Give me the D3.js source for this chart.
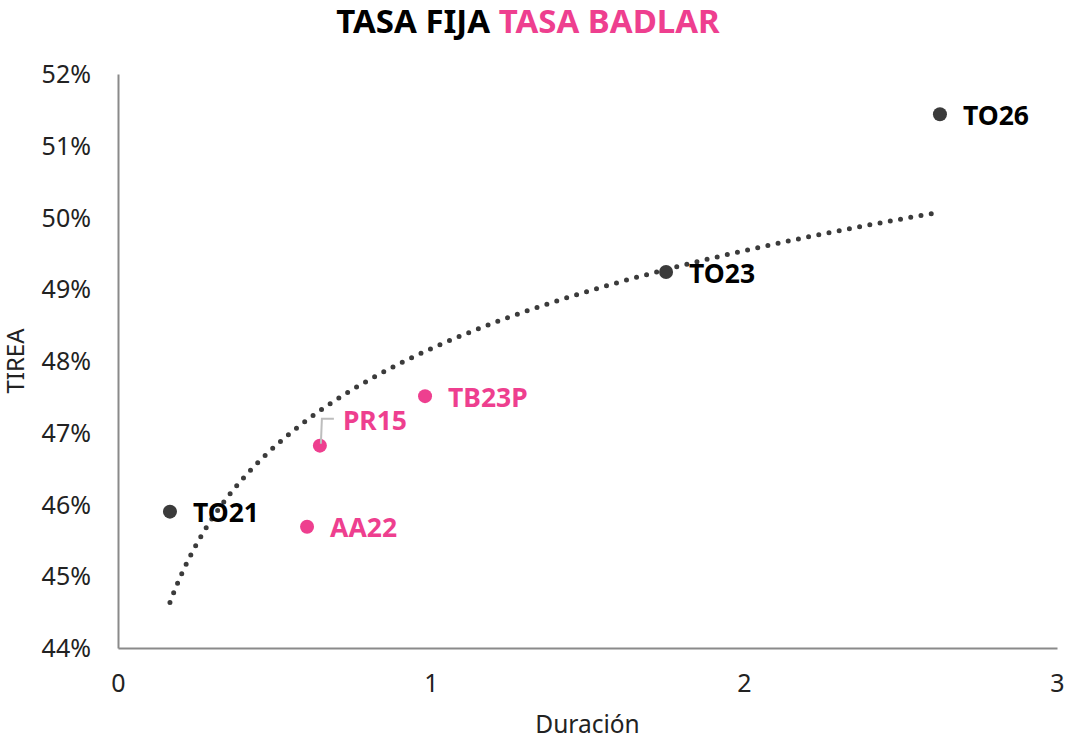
<!DOCTYPE html>
<html><head><meta charset="utf-8">
<script src="https://cdn.jsdelivr.net/npm/d3@7"></script>
<style>
body{margin:0;background:#fff;}
svg{display:block;font-family:"Noto Sans",sans-serif;}
</style></head>
<body><svg id="c" width="1070" height="740"></svg>
<script>
const names   = ["TO21","AA22","PR15","TB23P","TO23","TO26"];
const durations = [0.166, 0.604, 0.645, 0.981, 1.751, 2.626];
const tirea   = [45.90, 45.69, 46.82, 47.51, 49.24, 51.44];
const types   = ["fija","badlar","badlar","badlar","fija","fija"];
const xTicks = [0,1,2,3];
const yTicks = [44,45,46,47,48,49,50,51,52];
const titleParts = [{t:"TASA FIJA ",type:"fija"},{t:"TASA BADLAR",type:"badlar"}];

const colors = {fija:"#3b3b3b", badlar:"#ee3f8f"};
const textColors = {fija:"#000", badlar:"#ee3f8f"};

const svg = d3.select("#c");
const m = {l:118, r:1057, t:74, b:648};
const x = d3.scaleLinear().domain([0,3]).range([m.l,m.r]);
const y = d3.scaleLinear().domain([44,52]).range([m.b,m.t]);

// axes
const xa = svg.append("g").attr("transform",`translate(0,${m.b})`)
  .call(d3.axisBottom(x).tickValues(xTicks).tickSize(0).tickPadding(26).tickFormat(d3.format("d")));
const ya = svg.append("g").attr("transform",`translate(${m.l},0)`)
  .call(d3.axisLeft(y).tickValues(yTicks).tickSize(0).tickPadding(27).tickFormat(d=>d+"%"));
[xa,ya].forEach(a=>{
  a.select(".domain").attr("stroke","#8a8a8a").attr("stroke-width",2);
  a.selectAll("text").attr("font-size",25).attr("fill","#222").attr("font-family","Noto Sans");
});
ya.selectAll("text").attr("dy","0.34em");

// axis titles
svg.append("text").attr("x",(m.l+m.r)/2).attr("y",733).attr("text-anchor","middle")
  .attr("font-size",24.5).attr("fill","#222").text("Duración");
svg.append("text").attr("transform",`translate(24,${(m.t+m.b)/2}) rotate(-90)`)
  .attr("text-anchor","middle").attr("font-size",24).attr("fill","#222").text("TIREA");

// title
const tt = svg.append("text").attr("x",528).attr("y",33).attr("text-anchor","middle")
  .attr("font-size",33).attr("font-weight","bold");
titleParts.forEach(p=>tt.append("tspan").attr("fill",textColors[p.type]).text(p.t));

// logarithmic trendline (least squares on data)
const lx = durations.map(Math.log);
const mx = d3.mean(lx), my = d3.mean(tirea);
const b = d3.sum(lx.map((v,i)=>(v-mx)*(tirea[i]-my))) / d3.sum(lx.map(v=>(v-mx)*(v-mx)));
const a = my - b*mx;
const x0 = d3.min(durations), x1 = d3.max(durations)-0.025;
const trend = d3.range(0,201).map(i=>{const xv=x0+(x1-x0)*i/200; return [xv, a+b*Math.log(xv)];});
svg.append("path").datum(trend)
  .attr("d", d3.line().x(d=>x(d[0])).y(d=>y(d[1])))
  .attr("fill","none").attr("stroke","#3b3b3b").attr("stroke-width",5)
  .attr("stroke-linecap","round").attr("stroke-dasharray","0,10.4");

// points
const data = names.map((n,i)=>({n, d:durations[i], v:tirea[i], t:types[i]}));
svg.selectAll("circle.pt").data(data).enter().append("circle")
  .attr("cx",d=>x(d.d)).attr("cy",d=>y(d.v)).attr("r",7)
  .attr("fill",d=>colors[d.t]);

// PR15 leader
const pr = data.find(d=>d.n==="PR15");
svg.append("path")
  .attr("d",`M${x(pr.d)+1},${y(pr.v)-2} L${x(pr.d)+2},${y(pr.v)-27} L${x(pr.d)+14},${y(pr.v)-27}`)
  .attr("fill","none").attr("stroke","#bdbdbd").attr("stroke-width",2);

// labels
const offs = {PR15:[23,-26]};
svg.selectAll("text.lbl").data(data).enter().append("text")
  .attr("x",d=>x(d.d)+(offs[d.n]?offs[d.n][0]:23))
  .attr("y",d=>y(d.v)+(offs[d.n]?offs[d.n][1]:0)).attr("dy","0.4em")
  .attr("font-size",26.5).attr("font-weight","bold")
  .attr("fill",d=>textColors[d.t]).text(d=>d.n);
</script></body></html>
